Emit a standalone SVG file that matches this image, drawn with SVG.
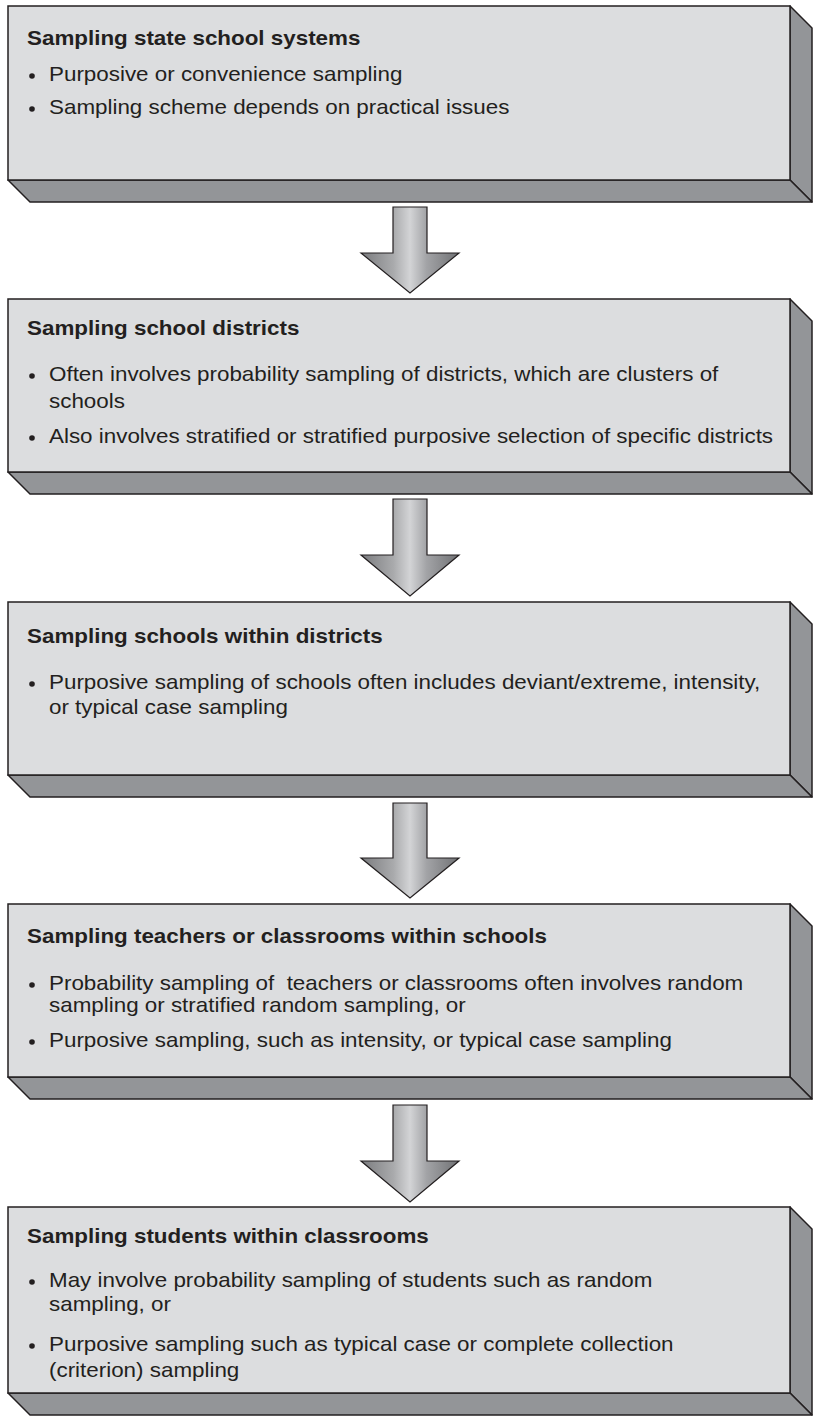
<svg xmlns="http://www.w3.org/2000/svg" width="816" height="1420" viewBox="0 0 816 1420">
<defs>
<linearGradient id="ag" x1="0" y1="0" x2="1" y2="0">
<stop offset="0" stop-color="#7a7b7e"/>
<stop offset="0.33" stop-color="#a9aaac"/>
<stop offset="0.5" stop-color="#d3d4d6"/>
<stop offset="0.67" stop-color="#a2a3a6"/>
<stop offset="1" stop-color="#707174"/>
</linearGradient>
<style>
.front{fill:#dcdddf;stroke:#231f20;stroke-width:1.5}
.side{fill:#939598;stroke:#231f20;stroke-width:1.5;stroke-linejoin:round}
.t{font-family:"Liberation Sans",Arial,Helvetica,sans-serif;font-size:20px;fill:#231f20}
.h{font-weight:bold}
.dot{fill:#231f20}
.arrow{fill:url(#ag);stroke:#231f20;stroke-width:1.2;stroke-linejoin:miter}
</style>
</defs>
<rect width="816" height="1420" fill="#ffffff"/>

<g id="connectors">
<polygon class="arrow" points="393,207 427,207 427,253 459,253 410,293 361,253 393,253"/>
<polygon class="arrow" points="393,499 427,499 427,555 459,555 410,596 361,555 393,555"/>
<polygon class="arrow" points="393,803 427,803 427,858 459,858 410,898 361,858 393,858"/>
<polygon class="arrow" points="393,1105 427,1105 427,1161 459,1161 410,1202 361,1161 393,1161"/>
</g>

<g id="node1">
<polygon class="side" points="790,6 812,28 812,202 790,180"/>
<polygon class="side" points="8,180 790,180 812,202 30,202"/>
<rect class="front" x="8" y="6" width="782" height="174"/>
<text class="t h" transform="translate(27 45) scale(1.12 1)">Sampling state school systems</text>
<circle class="dot" cx="32" cy="76" r="2.8"/>
<text class="t" transform="translate(49 81) scale(1.12 1)">Purposive or convenience sampling</text>
<circle class="dot" cx="32" cy="109" r="2.8"/>
<text class="t" transform="translate(49 114) scale(1.12 1)">Sampling scheme depends on practical issues</text>
</g>

<g id="node2">
<polygon class="side" points="790,299 812,321 812,494 790,472"/>
<polygon class="side" points="8,472 790,472 812,494 30,494"/>
<rect class="front" x="8" y="299" width="782" height="173"/>
<text class="t h" transform="translate(27 335) scale(1.12 1)">Sampling school districts</text>
<circle class="dot" cx="32" cy="376" r="2.8"/>
<text class="t" transform="translate(49 381) scale(1.12 1)">Often involves probability sampling of districts, which are clusters of</text>
<text class="t" transform="translate(49 408) scale(1.12 1)">schools</text>
<circle class="dot" cx="32" cy="438" r="2.8"/>
<text class="t" transform="translate(49 443) scale(1.12 1)">Also involves stratified or stratified purposive selection of specific districts</text>
</g>

<g id="node3">
<polygon class="side" points="790,602 812,624 812,797 790,775"/>
<polygon class="side" points="8,775 790,775 812,797 30,797"/>
<rect class="front" x="8" y="602" width="782" height="173"/>
<text class="t h" transform="translate(27 643) scale(1.12 1)">Sampling schools within districts</text>
<circle class="dot" cx="32" cy="684" r="2.8"/>
<text class="t" transform="translate(49 689) scale(1.12 1)">Purposive sampling of schools often includes deviant/extreme, intensity,</text>
<text class="t" transform="translate(49 714) scale(1.12 1)">or typical case sampling</text>
</g>

<g id="node4">
<polygon class="side" points="790,904 812,926 812,1099 790,1077"/>
<polygon class="side" points="8,1077 790,1077 812,1099 30,1099"/>
<rect class="front" x="8" y="904" width="782" height="173"/>
<text class="t h" transform="translate(27 943) scale(1.12 1)">Sampling teachers or classrooms within schools</text>
<circle class="dot" cx="32" cy="985" r="2.8"/>
<text class="t" transform="translate(49 990) scale(1.12 1)">Probability sampling of&#160; teachers or classrooms often involves random</text>
<text class="t" transform="translate(49 1012) scale(1.12 1)">sampling or stratified random sampling, or</text>
<circle class="dot" cx="32" cy="1042" r="2.8"/>
<text class="t" transform="translate(49 1047) scale(1.12 1)">Purposive sampling, such as intensity, or typical case sampling</text>
</g>

<g id="node5">
<polygon class="side" points="790,1207 812,1229 812,1415 790,1393"/>
<polygon class="side" points="8,1393 790,1393 812,1415 30,1415"/>
<rect class="front" x="8" y="1207" width="782" height="186"/>
<text class="t h" transform="translate(27 1243) scale(1.12 1)">Sampling students within classrooms</text>
<circle class="dot" cx="32" cy="1282" r="2.8"/>
<text class="t" transform="translate(49 1287) scale(1.12 1)">May involve probability sampling of students such as random</text>
<text class="t" transform="translate(49 1311) scale(1.12 1)">sampling, or</text>
<circle class="dot" cx="32" cy="1346" r="2.8"/>
<text class="t" transform="translate(49 1351) scale(1.12 1)">Purposive sampling such as typical case or complete collection</text>
<text class="t" transform="translate(49 1377) scale(1.12 1)">(criterion) sampling</text>
</g>
</svg>
